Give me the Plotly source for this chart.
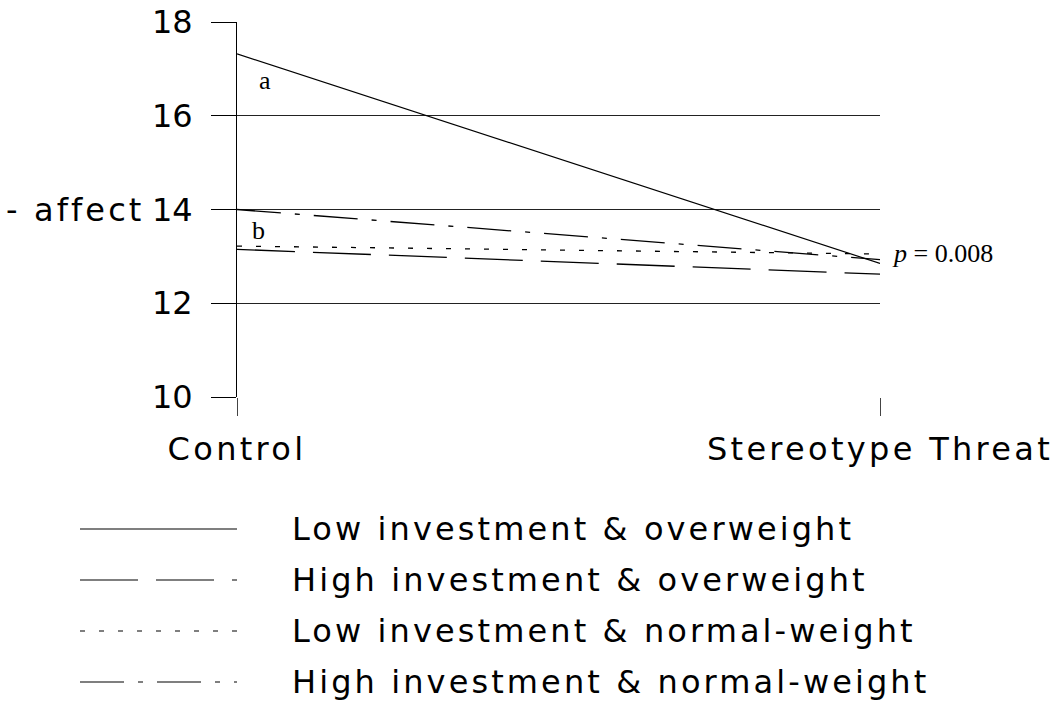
import plotly.graph_objects as go

W, H = 1063, 704

categories = ["Control", "Stereotype Threat"]
cat_pos = [0, 1]

series_names = [
    "Low investment & overweight",
    "High investment & overweight",
    "Low investment & normal-weight",
    "High investment & normal-weight",
]
low_inv_overweight = [17.32, 12.85]
high_inv_overweight = [13.15, 12.62]
low_inv_normal = [13.22, 13.05]
high_inv_normal = [14.0, 12.93]
series_values = [low_inv_overweight, high_inv_overweight, low_inv_normal, high_inv_normal]

y_ticks = [10, 12, 14, 16, 18]
y_label = "- affect"
sig_label = "<i>p</i> = 0.008"
sig_y = 13.07
letter_a = ("a", 0.044, 16.76)
letter_b = ("b", 0.034, 13.56)

dashes = ["solid", "58px,18px", "5px,14px", "44px,14px,5px,14px"]
widths = [1.2, 1.3, 1.3, 1.3]

SANS = "DejaVu Sans"
SERIF = "Liberation Serif"


def spaced(t, ls=3.1):
    return f'<span style="letter-spacing:{ls}px">{t}</span>'


fig = go.Figure()

for name, vals, d, w in zip(series_names, series_values, dashes, widths):
    fig.add_trace(go.Scatter(
        x=cat_pos, y=vals, mode="lines", name=name,
        line=dict(color="black", width=w, dash=d),
        xaxis="x", yaxis="y", showlegend=False, hoverinfo="skip",
    ))

# custom legend samples
for i, (name, d) in enumerate(zip(series_names, dashes)):
    fig.add_trace(go.Scatter(
        x=[0, 1], y=[i, i], mode="lines",
        line=dict(color="black", width=1.2, dash=d),
        xaxis="x2", yaxis="y2", showlegend=False, hoverinfo="skip",
    ))

# plot area: x 237..880, y 22..397
x0, x1 = 237 / W, 880 / W
yb, yt = 1 - 397 / H, 1 - 22 / H

ann = []
for i, name in enumerate(series_names):
    ann.append(dict(
        text=spaced(name), xref="paper", x=290 / W, xanchor="left",
        yref="y2", y=i, yanchor="middle", showarrow=False,
        font=dict(family=SANS, size=32, color="black"),
    ))
for t, xx, yy in (letter_a, letter_b):
    ann.append(dict(text=t, xref="x", yref="y", x=xx, y=yy, showarrow=False,
                    font=dict(family=SERIF, size=26, color="black")))
ann.append(dict(text=sig_label, xref="x", yref="y", x=1, y=sig_y, xanchor="left",
                xshift=10, showarrow=False,
                font=dict(family=SERIF, size=26, color="black")))
ann.append(dict(text=spaced(y_label), xref="paper", yref="y", x=147 / W, y=14,
                xanchor="right", yanchor="middle", showarrow=False,
                font=dict(family=SANS, size=32, color="black")))

fig.update_layout(
    template="none",
    width=W, height=H,
    margin=dict(l=0, r=0, t=0, b=0, pad=0),
    paper_bgcolor="white", plot_bgcolor="white",
    showlegend=False,
    xaxis=dict(
        domain=[x0, x1], range=[0, 1], tickvals=cat_pos,
        ticktext=[spaced(c, 3.3) for c in categories],
        ticks="outside", ticklen=18, tickwidth=1, tickcolor="#444",
        showline=False, showgrid=False, zeroline=False, automargin=False,
        tickfont=dict(family=SANS, size=32, color="black"),
        ticklabelstandoff=6, anchor="y",
    ),
    yaxis=dict(
        domain=[yb, yt], range=[10, 18], tickvals=y_ticks,
        ticks="outside", ticklen=25, tickwidth=1, tickcolor="black",
        showline=True, linecolor="black", linewidth=1,
        showgrid=True, gridcolor="#222", gridwidth=1, zeroline=False,
        automargin=False,
        tickfont=dict(family=SANS, size=32, color="black"),
        ticklabelstandoff=12, anchor="x",
    ),
    xaxis2=dict(domain=[80 / W, 237 / W], range=[0, 1], visible=False,
                anchor="y2", automargin=False),
    yaxis2=dict(domain=[1 - 692.2 / H, 1 - 518.8 / H], range=[3.2, -0.2],
                visible=False, anchor="x2", automargin=False),
    annotations=ann,
)

fig.write_html(
    "out.html",
    config={"displayModeBar": False, "staticPlot": True},
    post_script="document.body.style.margin='0px';document.body.style.overflow='hidden';",
)
